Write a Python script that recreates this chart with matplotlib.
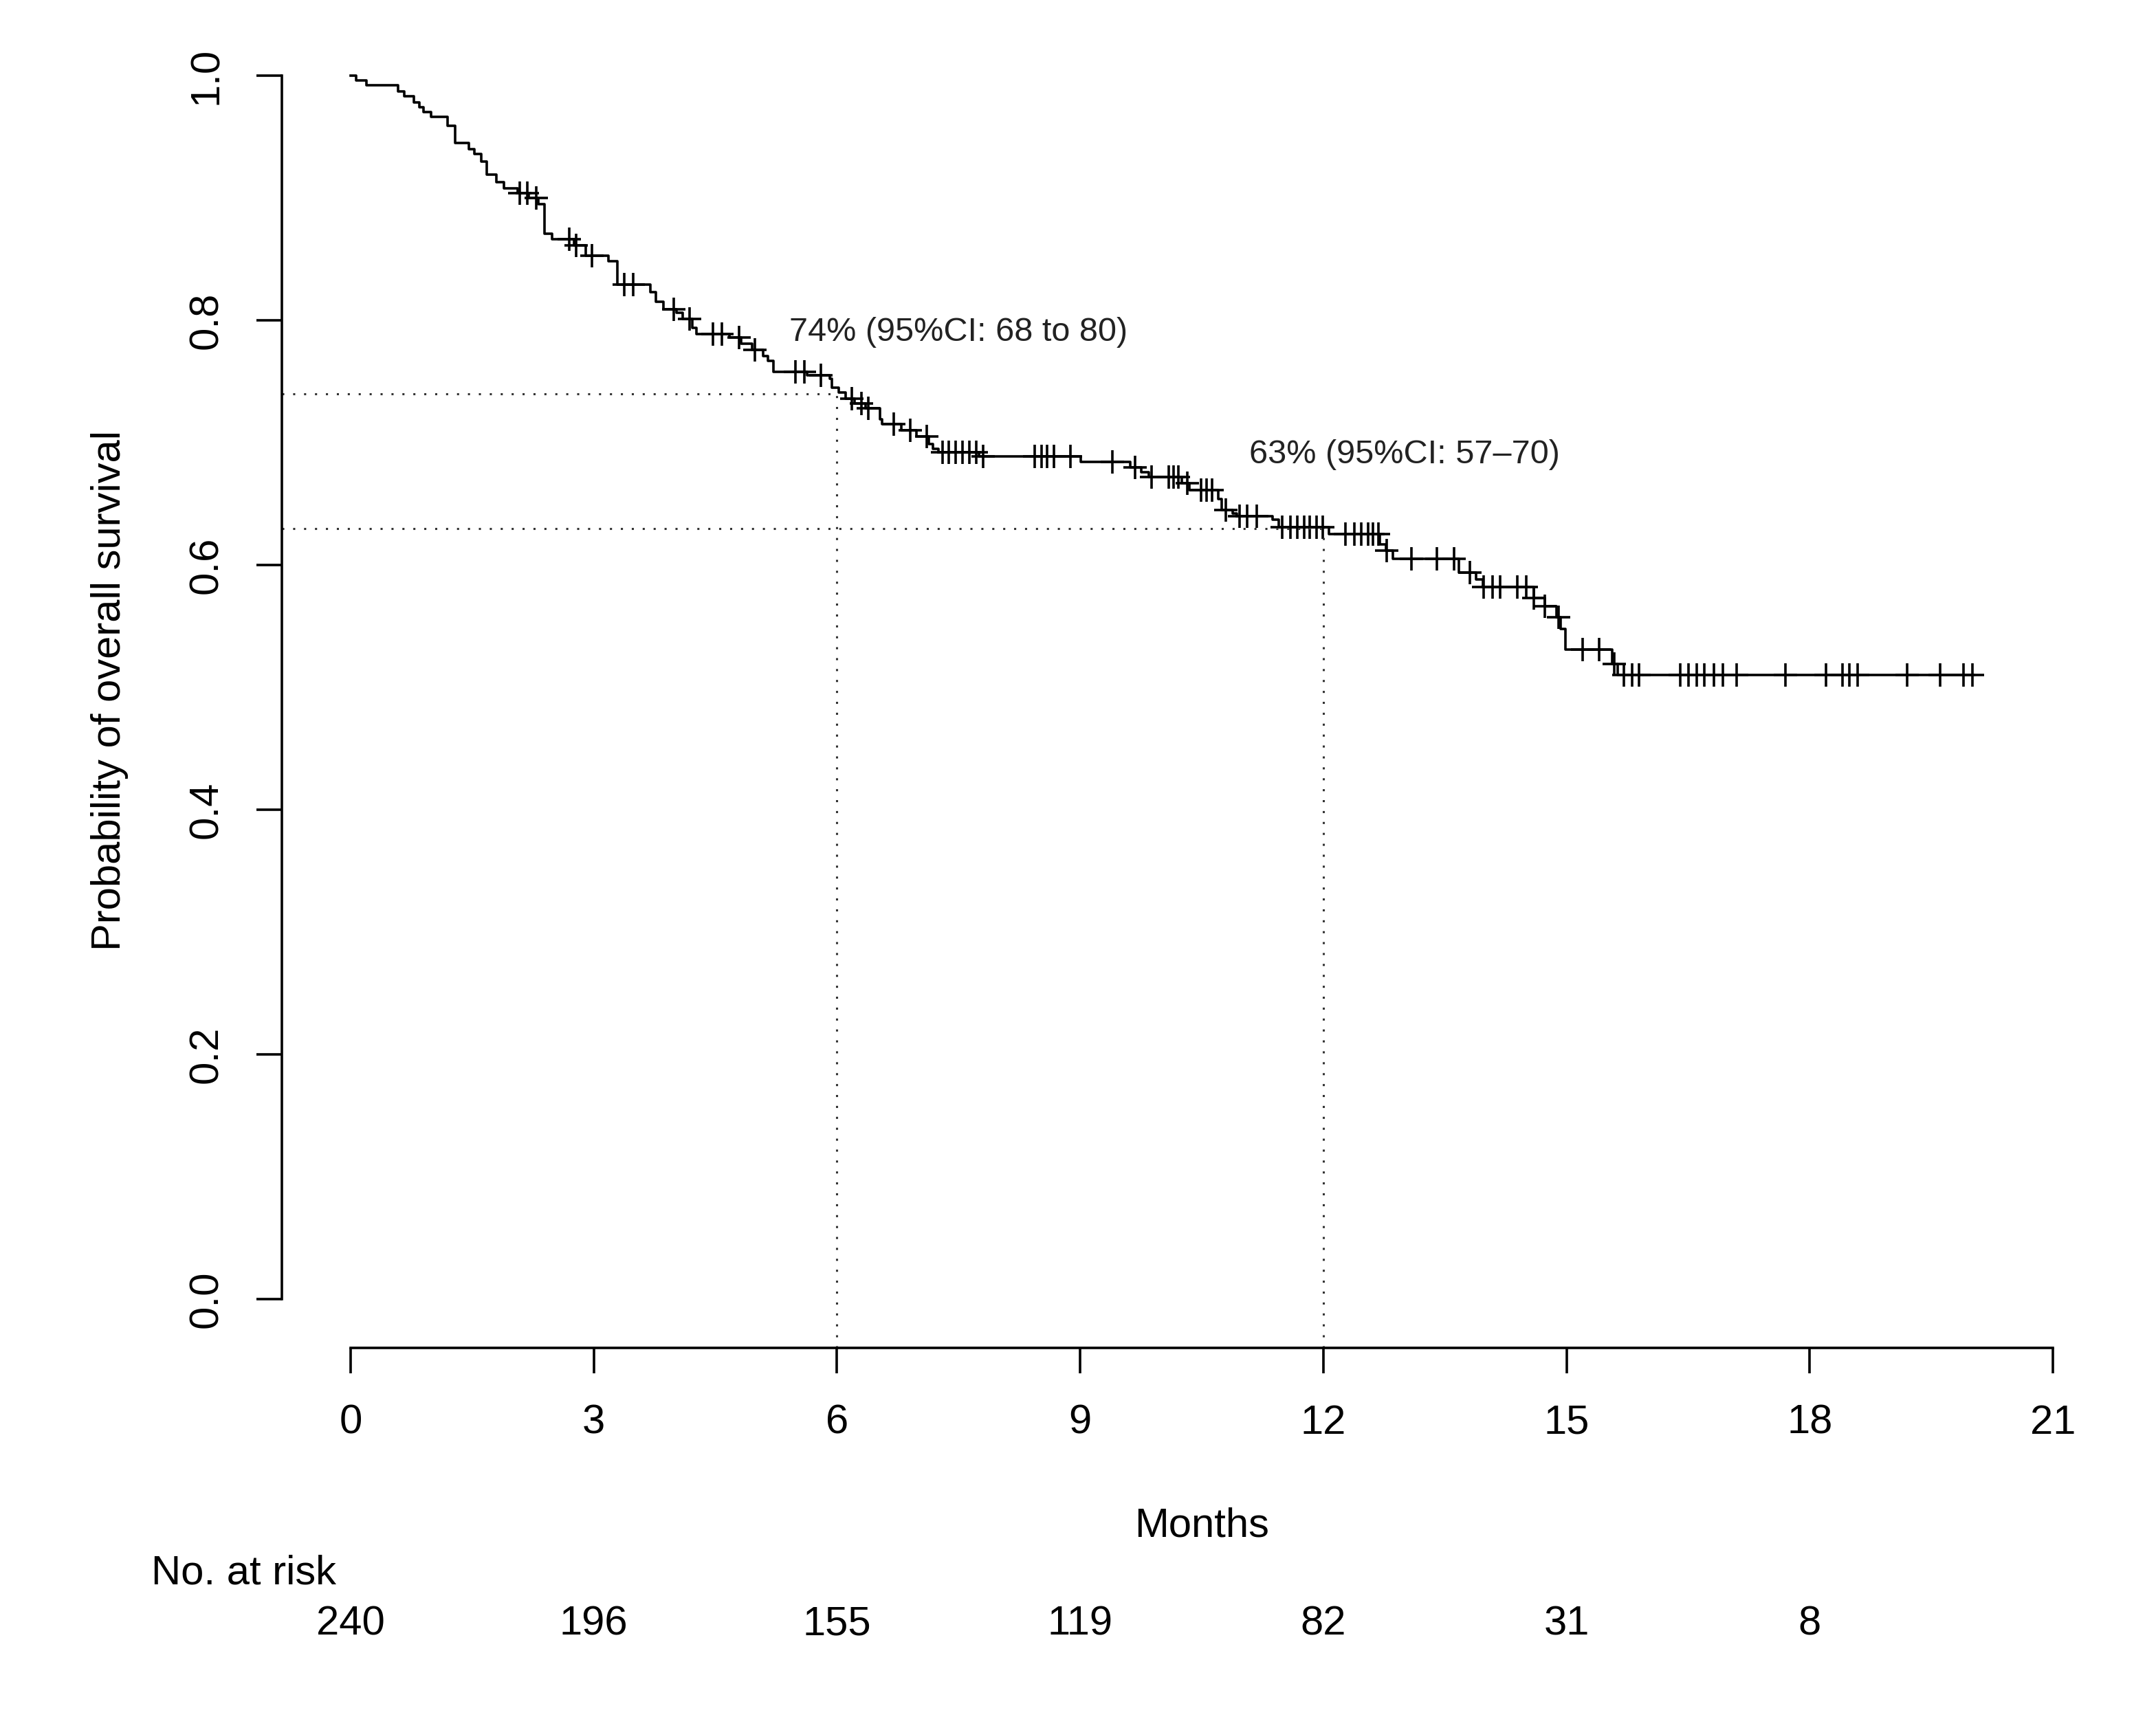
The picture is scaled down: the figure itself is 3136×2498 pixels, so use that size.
import numpy as np
import matplotlib
matplotlib.use("Agg")
import matplotlib.pyplot as plt
from matplotlib.transforms import blended_transform_factory

plt.rcParams["font.family"] = ["Liberation Sans", "DejaVu Sans"]

# Kaplan-Meier steps (months, survival after step)
event_times = [0.00, 0.07, 0.20, 0.585, 0.66, 0.78, 0.85, 0.90, 0.99, 1.20,
               1.29, 1.46, 1.53, 1.61, 1.68, 1.80, 1.89, 2.06, 2.20, 2.32,
               2.39, 2.49, 2.76, 2.90, 3.18, 3.29, 3.70, 3.77, 3.86, 4.02,
               4.10, 4.22, 4.27, 4.67, 4.82, 4.95, 5.09, 5.15, 5.22, 5.63,
               5.91, 5.94, 6.02, 6.11, 6.22, 6.35, 6.53, 6.56, 6.79, 6.98,
               7.13, 7.18, 7.25, 7.75, 9.01, 9.62, 9.75, 9.85, 10.25, 10.35,
               10.70, 10.75, 10.88, 10.93, 11.37, 11.45, 12.07, 12.70, 12.77, 12.86,
               13.67, 13.88, 13.97, 14.60, 14.73, 14.88, 14.93, 14.99, 15.56, 15.63]
survival = [1.000, 0.996, 0.992, 0.987, 0.983, 0.978, 0.974, 0.970, 0.966, 0.959,
            0.945, 0.940, 0.936, 0.930, 0.919, 0.913, 0.908, 0.904, 0.900, 0.895,
            0.871, 0.866, 0.861, 0.853, 0.848, 0.829, 0.823, 0.815, 0.809, 0.806,
            0.801, 0.794, 0.789, 0.786, 0.781, 0.776, 0.771, 0.767, 0.758, 0.755,
            0.752, 0.745, 0.741, 0.736, 0.732, 0.728, 0.719, 0.715, 0.710, 0.705,
            0.699, 0.695, 0.692, 0.689, 0.684, 0.680, 0.676, 0.672, 0.667, 0.661,
            0.654, 0.645, 0.642, 0.640, 0.637, 0.631, 0.625, 0.617, 0.612, 0.605,
            0.594, 0.588, 0.582, 0.573, 0.566, 0.557, 0.548, 0.531, 0.519, 0.510]

censor_times = [2.09, 2.18, 2.29, 2.70, 2.78, 2.98, 3.38, 3.49, 3.99, 4.18,
                4.47, 4.58, 4.79, 4.99, 5.49, 5.60, 5.80, 6.18, 6.30, 6.39,
                6.70, 6.90, 7.11, 7.30, 7.38, 7.46, 7.55, 7.63, 7.72, 7.80,
                8.44, 8.52, 8.59, 8.68, 8.88, 9.40, 9.68, 9.88, 10.09, 10.15,
                10.21, 10.32, 10.49, 10.56, 10.63, 10.80, 10.97, 11.06, 11.18, 11.49,
                11.59, 11.68, 11.76, 11.83, 11.92, 11.99, 12.27, 12.38, 12.47, 12.55,
                12.61, 12.68, 12.78, 13.09, 13.40, 13.61, 13.81, 13.98, 14.09, 14.18,
                14.39, 14.50, 14.60, 14.73, 14.90, 15.20, 15.40, 15.59, 15.71, 15.81,
                15.89, 16.40, 16.50, 16.61, 16.70, 16.82, 16.93, 17.10, 17.70, 18.20,
                18.40, 18.49, 18.59, 19.20, 19.61, 19.90, 20.01]

risk_times = [0, 3, 6, 9, 12, 15, 18]
at_risk = [240, 196, 155, 119, 82, 31, 8]

marks = [(6, 0.74, "74% (95%CI: 68 to 80)", 7.5, 0.79),
         (12, 0.63, "63% (95%CI: 57\u201370)", 13.0, 0.69)]

x_ticks = list(range(0, 22, 3))
y_ticks = [0.0, 0.2, 0.4, 0.6, 0.8, 1.0]

fs = 21.5
lw = 1.3
fig = plt.figure(figsize=(15.68, 12.49), dpi=200)
ax = fig.add_axes([0.1307, 0.2149, 0.861, 0.7696])
xmin, xmax = -0.848, 22.05
ax.set_xlim(xmin, xmax)
ax.set_ylim(-0.04, 1.04)

# survival curve
t = np.array(event_times + [max(censor_times)])
s = np.array(survival + [survival[-1]])
ax.step(t, s, where="post", color="black", lw=lw)

# censor marks
ct = np.array(censor_times)
idx = np.searchsorted(np.array(event_times), ct, side="right") - 1
cs = np.array(survival)[idx]
ax.plot(ct, cs, ls="none", marker="+", ms=12.5, mew=lw, color="black")

# landmark lines and labels
for xm, ym, label, tx, ty in marks:
    ax.plot([xmin, xm], [ym, ym], color="#333333", lw=1.1, ls=(0, (1, 4.2)))
    ax.plot([xm, xm], [-0.04, ym], color="#333333", lw=1.1, ls=(0, (1, 4.2)))
    ax.text(tx, ty, label, fontsize=17.5, ha="center", va="center", color="#222222")

for side in ["top", "right"]:
    ax.spines[side].set_visible(False)
ax.spines["left"].set_bounds(0, 1)
ax.spines["bottom"].set_bounds(0, 21)
for side in ["left", "bottom"]:
    ax.spines[side].set_linewidth(lw)

ax.set_xticks(x_ticks)
ax.set_yticks(y_ticks)
ax.set_yticklabels([f"{v:.1f}" for v in y_ticks])
ax.tick_params(direction="out", length=13.3, width=lw, labelsize=fs, pad=16)
ax.tick_params(axis="y", labelrotation=90)
for lab in ax.get_yticklabels():
    lab.set_va("center")

fig.text(0.051, 0.5977, "Probability of overall survival", rotation=90,
         ha="center", va="center", fontsize=fs)

trans = blended_transform_factory(ax.transData, fig.transFigure)
ax.text(10.5, 0.1049, "Months", transform=trans, ha="center", va="baseline", fontsize=fs)
fig.text(220 / 3136, 0.0776, "No. at risk", ha="left", va="baseline", fontsize=fs)
for xr, n in zip(risk_times, at_risk):
    ax.text(xr, 0.0480, str(n), transform=trans, ha="center", va="baseline", fontsize=fs)

fig.savefig("out.png", dpi=200, facecolor="white")
